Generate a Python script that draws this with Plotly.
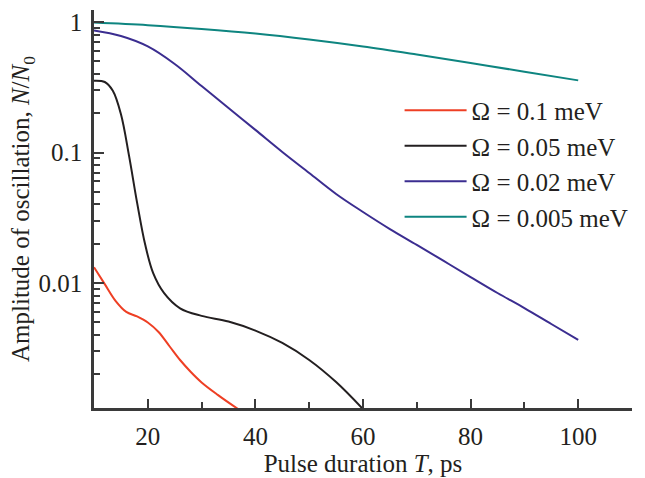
import plotly.graph_objects as go

# ---- data ----
names = ["Ω = 0.1 meV", "Ω = 0.05 meV", "Ω = 0.02 meV", "Ω = 0.005 meV"]
colors = ["#ee3f24", "#231f20", "#3b2d90", "#0e8580"]

t_red = [10, 12, 14, 16, 18, 20, 22, 24, 26, 28, 30, 33, 36.8]
v_red = [0.0132, 0.0098, 0.0073, 0.0060, 0.00554, 0.00498, 0.00421, 0.00329,
         0.00257, 0.00208, 0.00173, 0.00139, 0.00108]

t_black = [10, 12, 13.5, 15, 16.5, 18, 19.5, 21, 23, 26, 30, 35, 40, 45,
           50, 55, 60]
v_black = [0.355, 0.347, 0.297, 0.197, 0.095, 0.0415, 0.0198, 0.0119,
           0.0084, 0.0064, 0.0056, 0.00507, 0.00432, 0.00347, 0.00257,
           0.00174, 0.00108]

t_blue = [10, 15, 20, 25, 30, 35, 40, 45, 50, 55, 60, 65, 70, 75, 80, 85,
          90, 95, 100]
v_blue = [0.861, 0.781, 0.650, 0.477, 0.323, 0.219, 0.149, 0.101, 0.0697,
          0.0481, 0.035, 0.0259, 0.0196, 0.01475, 0.0111, 0.00838, 0.00643,
          0.00485, 0.00366]

t_teal = [10, 20, 30, 40, 50, 60, 70, 80, 90, 100]
v_teal = [0.99, 0.945, 0.885, 0.816, 0.734, 0.649, 0.563, 0.485, 0.416, 0.357]

x_major = [20, 40, 60, 80, 100]
x_minor = [30, 50, 70, 90, 110]
y_major = [0.01, 0.1, 1]
y_major_text = ["0.01", "0.1", "1"]
y_minor = [m * d for d in (0.001, 0.01, 0.1) for m in range(2, 10)]

series = [(t_red, v_red), (t_black, v_black), (t_blue, v_blue), (t_teal, v_teal)]

FONT = "Liberation Serif"
INK = "#231f20"
AX = "#3a3a3a"

fig = go.Figure()
for i, ((t, v), name, col) in enumerate(zip(series, names, colors)):
    fig.add_trace(go.Scatter(
        x=t, y=v, mode="lines", name=name,
        line=dict(color=col, width=2, shape="spline", smoothing=1.0),
    ))

fig.update_layout(
    width=645, height=478,
    margin=dict(l=94, r=13, t=10, b=70),
    paper_bgcolor="white", plot_bgcolor="white",
    font=dict(family=FONT, size=25, color=INK),
    legend=dict(
        x=0.568, y=0.805, xanchor="left", yanchor="top",
        bgcolor="rgba(0,0,0,0)", font=dict(size=25, family=FONT, color=INK),
        itemwidth=62, tracegroupgap=0,
    ),
    showlegend=True,
)

fig.update_xaxes(
    range=[10, 110], showline=True, linecolor=AX, linewidth=2.5,
    ticks="inside", ticklen=9, tickwidth=2, tickcolor=AX,
    tickvals=x_major, ticktext=[str(v) for v in x_major],
    tickfont=dict(size=25, family=FONT, color=INK),
    minor=dict(tickvals=x_minor, ticks="inside", ticklen=6, tickwidth=2,
               tickcolor=AX),
    showgrid=False, zeroline=False, automargin=False,
    title=dict(text="Pulse duration <i>T</i>, ps",
               font=dict(size=25, family=FONT, color=INK), standoff=4),
    ticklabelstandoff=4,
)
fig.update_yaxes(
    type="log", range=[-2.958, 0.092], showline=True, linecolor=AX,
    linewidth=2.5, ticks="inside", ticklen=10, tickwidth=2, tickcolor=AX,
    tickvals=y_major, ticktext=y_major_text,
    tickfont=dict(size=25, family=FONT, color=INK),
    minor=dict(tickvals=y_minor, ticks="inside", ticklen=6, tickwidth=2,
               tickcolor=AX),
    showgrid=False, zeroline=False, automargin=False,
    title=dict(text="Amplitude of oscillation, <i>N</i>/<i>N</i><sub>0</sub>",
               font=dict(size=25, family=FONT, color=INK), standoff=0),
    ticklabelstandoff=4,
)

fig.write_html("out.html", config={"displayModeBar": False},
               post_script="document.body.style.margin='0';")
